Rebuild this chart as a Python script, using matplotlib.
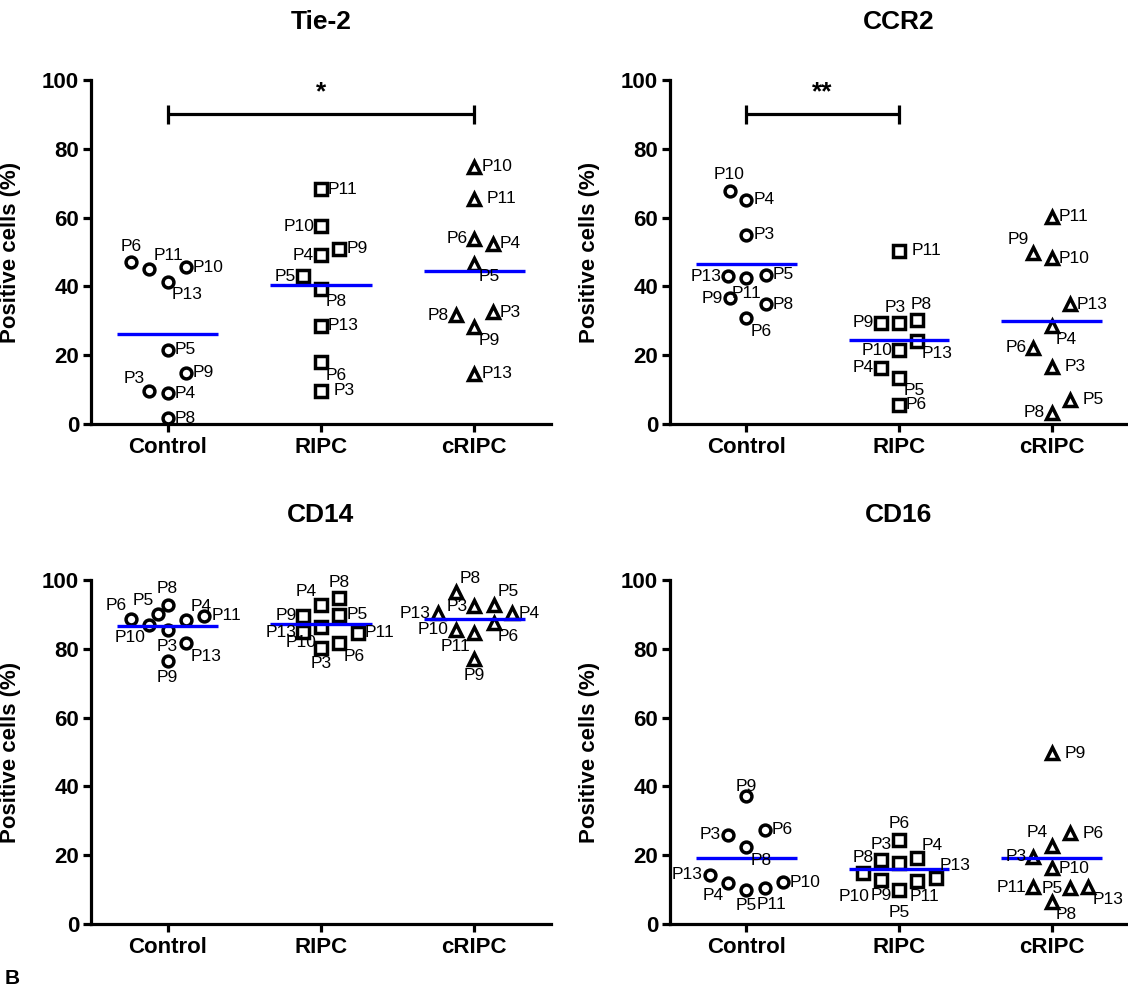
import matplotlib.pyplot as plt
import numpy as np

plt.rcParams['font.family'] = ['Liberation Sans', 'DejaVu Sans']

groups = ["Control", "RIPC", "cRIPC"]

# ---- Tie-2 ----
tie2_ctrl_ids = ["P6", "P11", "P10", "P13", "P5", "P9", "P3", "P4", "P8"]
tie2_ctrl_vals = [47.1, 45.1, 45.6, 41.3, 21.6, 14.9, 9.5, 8.9, 1.7]
tie2_ripc_ids = ["P11", "P10", "P9", "P4", "P5", "P8", "P13", "P6", "P3"]
tie2_ripc_vals = [68.2, 57.5, 51.0, 49.0, 42.9, 39.3, 28.6, 18.0, 9.7]
tie2_cripc_ids = ["P10", "P11", "P6", "P4", "P5", "P8", "P3", "P9", "P13"]
tie2_cripc_vals = [74.8, 65.5, 53.9, 52.4, 46.6, 31.6, 32.5, 28.2, 14.6]

# ---- CCR2 ----
ccr2_ctrl_ids = ["P10", "P4", "P3", "P13", "P11", "P5", "P9", "P8", "P6"]
ccr2_ctrl_vals = [67.8, 65.2, 55.0, 42.9, 42.4, 43.4, 36.6, 34.8, 30.8]
ccr2_ripc_ids = ["P11", "P9", "P3", "P8", "P13", "P10", "P4", "P5", "P6"]
ccr2_ripc_vals = [50.4, 29.5, 29.3, 30.1, 24.2, 21.4, 16.3, 13.4, 5.6]
ccr2_cripc_ids = ["P11", "P9", "P10", "P13", "P4", "P6", "P3", "P5", "P8"]
ccr2_cripc_vals = [60.3, 49.7, 48.2, 34.8, 28.4, 22.1, 16.7, 7.1, 3.2]

# ---- CD14 ----
cd14_ctrl_ids = ["P6", "P10", "P5", "P8", "P3", "P4", "P13", "P11", "P9"]
cd14_ctrl_vals = [88.7, 87.0, 90.2, 92.8, 85.4, 88.5, 81.7, 89.6, 76.4]
cd14_ripc_ids = ["P9", "P13", "P4", "P8", "P5", "P10", "P3", "P6", "P11"]
cd14_ripc_vals = [89.6, 84.8, 92.8, 94.7, 89.9, 86.3, 80.3, 81.7, 84.6]
cd14_cripc_ids = ["P8", "P13", "P3", "P5", "P4", "P10", "P6", "P11", "P9"]
cd14_cripc_vals = [96.6, 90.4, 92.3, 92.8, 90.4, 85.6, 87.5, 84.6, 76.9]

# ---- CD16 ----
cd16_ctrl_ids = ["P9", "P3", "P6", "P8", "P13", "P4", "P5", "P11", "P10"]
cd16_ctrl_vals = [37.1, 25.9, 27.4, 22.3, 14.3, 12.0, 9.9, 10.4, 12.1]
cd16_ripc_ids = ["P6", "P3", "P4", "P8", "P10", "P13", "P9", "P5", "P11"]
cd16_ripc_vals = [24.5, 18.6, 19.1, 14.8, 17.7, 13.3, 12.8, 9.9, 12.6]
cd16_cripc_ids = ["P9", "P6", "P4", "P3", "P10", "P11", "P5", "P13", "P8"]
cd16_cripc_vals = [49.7, 26.4, 22.7, 19.6, 16.2, 10.7, 10.4, 10.9, 6.5]

# scatter jitter (fraction of category spacing) and label placement, layout only
tie2_dx = [[-0.24, -0.12, 0.12, 0, 0, 0.12, -0.12, 0, 0],
           [0, 0, 0.12, 0, -0.12, 0, 0, 0, 0],
           [0, 0, 0, 0.12, 0, -0.12, 0.12, 0, 0]]
tie2_lab = [["t", "ur", "r", "lr", "r", "r", "ul", "r", "r"],
            ["r", "l", "r", "l", "l", "lr", "r", "lr", "R"],
            ["r", "R", "l", "r", "lr", "l", "r", "lr", "r"]]
ccr2_dx = [[-0.11, 0, 0, -0.12, 0, 0.13, -0.11, 0.13, 0],
           [0, -0.12, 0, 0.12, 0.12, 0, -0.12, 0, 0],
           [0, -0.12, 0, 0.12, 0, -0.12, 0, 0.12, 0]]
ccr2_lab = [["t", "r", "r", "l", "b", "r", "l", "r", "lr"],
            ["R", "l", (-3, 6, "center", "bottom"), (3, 6, "center", "bottom"),
             "lr", "l", "l", "lr", "r"],
            ["r", "ul", "r", "r", "lr", "l", "R", "R", "l"]]
cd14_dx = [[-0.24, -0.12, -0.06, 0, 0, 0.12, 0.12, 0.24, 0],
           [-0.115, -0.115, 0, 0.12, 0.12, 0, 0, 0.12, 0.24],
           [-0.12, -0.24, 0, 0.125, 0.245, -0.12, 0.125, 0, 0]]
cd14_lab = [["ul", "ll", "ul", "t", "b", "ur", "lr", "r", "b"],
            ["l", "l", "ul", "t", "r", (-3, -6, "right", "top"), "b", "lr", "r"],
            ["ur", "l", "l", "ur", "r", "l", "lr", "ll", "b"]]
cd16_dx = [[0, -0.12, 0.12, 0, -0.24, -0.12, 0, 0.12, 0.24],
           [0, -0.115, 0.12, -0.235, 0, 0.24, -0.115, 0, 0.12],
           [0, 0.12, 0, -0.12, 0, -0.12, 0.12, 0.24, 0]]
cd16_lab = [["T", "l", "r", "lr", "l", "ll", "b", (5, -6, "center", "top"), "r"],
            ["t", "t", "ur", "t", (-32, -24, "center", "center"), "ur", "b",
             (0, -11, "center", "top"), (5, -6, "center", "top")],
            ["R", "R", "ul", "l", "r", "l", "l", "lr", "lr"]]

spots = {
    "r": (5, 0, "left", "center"),
    "R": (9, 0, "left", "center"),
    "l": (-5, 0, "right", "center"),
    "ul": (-3, 4, "right", "bottom"),
    "ur": (3, 4, "left", "bottom"),
    "ll": (-3, -4, "right", "top"),
    "lr": (3, -4, "left", "top"),
    "t": (0, 6, "center", "bottom"),
    "T": (0, 2, "center", "bottom"),
    "b": (0, -6, "center", "top"),
}

markers = ["o", "s", "^"]
marker_sizes = [7.8, 8.2, 8.6]

panels = [
    ("Tie-2", [(tie2_ctrl_ids, tie2_ctrl_vals), (tie2_ripc_ids, tie2_ripc_vals),
               (tie2_cripc_ids, tie2_cripc_vals)], tie2_dx, tie2_lab, (1, 3, "*")),
    ("CCR2", [(ccr2_ctrl_ids, ccr2_ctrl_vals), (ccr2_ripc_ids, ccr2_ripc_vals),
              (ccr2_cripc_ids, ccr2_cripc_vals)], ccr2_dx, ccr2_lab, (1, 2, "**")),
    ("CD14", [(cd14_ctrl_ids, cd14_ctrl_vals), (cd14_ripc_ids, cd14_ripc_vals),
              (cd14_cripc_ids, cd14_cripc_vals)], cd14_dx, cd14_lab, None),
    ("CD16", [(cd16_ctrl_ids, cd16_ctrl_vals), (cd16_ripc_ids, cd16_ripc_vals),
              (cd16_cripc_ids, cd16_cripc_vals)], cd16_dx, cd16_lab, None),
]

W, H = 1128, 992
fig = plt.figure(figsize=(W / 100, H / 100), dpi=100)

# axes boxes in pixels: (left, top, right, bottom)
boxes = [(91, 80, 551, 424), (670, 80, 1128, 424),
         (91, 580, 551, 924), (670, 580, 1128, 924)]
title_y = [22, 22, 515, 515]

for (name, data, dxs, labs, sig), (l, t, r, b), ty in zip(panels, boxes, title_y):
    ax = fig.add_axes([l / W, 1 - b / H, (r - l) / W, (b - t) / H])
    for gi, (ids, vals) in enumerate(data):
        xs = np.full(len(vals), gi + 1.0) + np.array(dxs[gi])
        ax.plot(xs, vals, linestyle="none", marker=markers[gi], ms=marker_sizes[gi],
                mfc="white", mec="black", mew=2.5, clip_on=False, zorder=3)
        m = np.mean(vals)
        ax.plot([gi + 1 - 0.33, gi + 1 + 0.33], [m, m], color="#0000ff", lw=2.4,
                solid_capstyle="butt", zorder=4)
        for pid, x, v, lab in zip(ids, xs, vals, labs[gi]):
            ox, oy, ha, va = spots[lab] if isinstance(lab, str) else lab
            ax.annotate(pid, (x, v), xytext=(ox, oy), textcoords="offset points",
                        ha=ha, va=va, fontsize=12.5, zorder=5, annotation_clip=False)
    if sig is not None:
        x0, x1, star = sig
        ax.plot([x0, x1], [90, 90], color="black", lw=2.3, solid_capstyle="butt")
        for xe in (x0, x1):
            ax.plot([xe, xe], [87.2, 92.8], color="black", lw=2.3, solid_capstyle="butt")
        ax.text((x0 + x1) / 2, 96.5, star, ha="center", va="center", fontsize=19,
                fontweight="bold")
    ax.set_xlim(0.5, 3.5)
    ax.set_ylim(0, 100)
    ax.set_xticks([1, 2, 3])
    ax.set_xticklabels(groups, fontsize=16, fontweight="bold")
    ax.set_yticks(range(0, 101, 20))
    ax.set_yticklabels([str(v) for v in range(0, 101, 20)], fontsize=16, fontweight="bold")
    for s in ("top", "right"):
        ax.spines[s].set_visible(False)
    for s in ("left", "bottom"):
        ax.spines[s].set_linewidth(2.3)
    ax.tick_params(axis="both", width=2.3, length=5.5, direction="out")
    ax.tick_params(axis="x", pad=4)
    ax.tick_params(axis="y", pad=3)
    ax.set_ylabel("Positive cells (%)", fontsize=16, fontweight="bold")
    ax.yaxis.set_label_coords(-0.153, 0.5)
    fig.text((l + r) / 2 / W, 1 - ty / H, name, ha="center", va="center",
             fontsize=19, fontweight="bold")

fig.text(12 / W, 1 - 979 / H, "B", ha="center", va="center", fontsize=15, fontweight="bold")

fig.savefig("out.png", dpi=100)
